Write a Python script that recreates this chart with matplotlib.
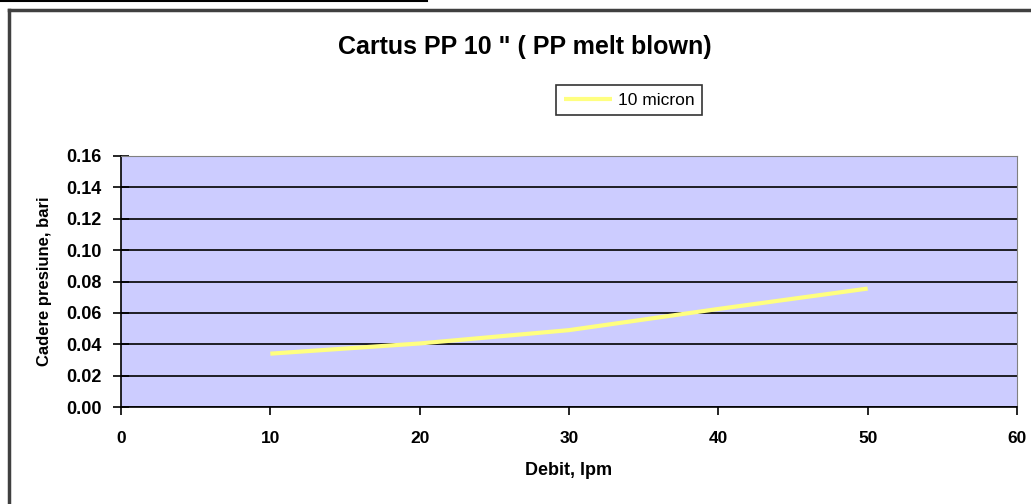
import matplotlib.pyplot as plt
from matplotlib.lines import Line2D

plt.rcParams['font.family'] = ['Liberation Sans', 'DejaVu Sans']

# date
debit = [10, 20, 30, 40, 50]
cadere = [0.034, 0.0405, 0.049, 0.0625, 0.0755]
serie = "10 micron"
x_ticks = [0, 10, 20, 30, 40, 50, 60]
y_ticks = [0.00, 0.02, 0.04, 0.06, 0.08, 0.10, 0.12, 0.14, 0.16]

fig = plt.figure(figsize=(10.31, 5.04), dpi=100)
fig.patch.set_facecolor('white')

# chenarul graficului + linia de sus
fig.add_artist(Line2D([0, 427 / 1031], [1 - 1 / 504, 1 - 1 / 504], color='black', lw=1.5))
fig.add_artist(Line2D([9 / 1031, 9 / 1031], [0, 1 - 10 / 504], color='#404040', lw=2.5))
fig.add_artist(Line2D([9 / 1031, 1], [1 - 10 / 504, 1 - 10 / 504], color='#404040', lw=2.5))

ax = fig.add_axes([121 / 1031, 1 - 407 / 504, 896 / 1031, 251 / 504])
ax.set_facecolor('#CCCCFF')

ax.plot(debit, cadere, color='#FFFF80', lw=3, label=serie, solid_capstyle='butt')

ax.set_xlim(0, 60)
ax.set_ylim(0, 0.16)
ax.set_xticks(x_ticks)
ax.set_yticks(y_ticks)
ax.set_yticklabels([f"{v:.2f}" for v in y_ticks])
ax.yaxis.grid(True, color='black', lw=1.2)
ax.set_axisbelow(True)

ax.tick_params(axis='x', direction='out', length=6, width=1.2, labelsize=12.5, pad=11)
ax.tick_params(axis='y', direction='inout', length=12, width=1.2, labelsize=13, pad=8)
for lbl in ax.get_xticklabels() + ax.get_yticklabels():
    lbl.set_fontweight('bold')

for s in ['top', 'right']:
    ax.spines[s].set_color('#808080')
for s in ['left', 'bottom']:
    ax.spines[s].set_color('black')
    ax.spines[s].set_linewidth(1.2)

ax.set_xlabel("Debit, lpm", fontsize=13, fontweight='bold', labelpad=12)
ax.set_ylabel("Cadere presiune, bari", fontsize=12, fontweight='bold', labelpad=10)

fig.text(525 / 1031, 1 - 47 / 504, 'Cartus PP 10 " ( PP melt blown)', ha='center', va='center',
         fontsize=18, fontweight='bold')

leg = ax.legend(loc='center', bbox_to_anchor=((629 - 121) / 896, (407 - 100) / 251),
                frameon=True, fancybox=False, fontsize=12.5, handlelength=2.8,
                handletextpad=0.3, borderpad=0.45)
leg.get_frame().set_edgecolor('black')
leg.get_frame().set_linewidth(1.2)

fig.savefig('out.png', dpi=100)
